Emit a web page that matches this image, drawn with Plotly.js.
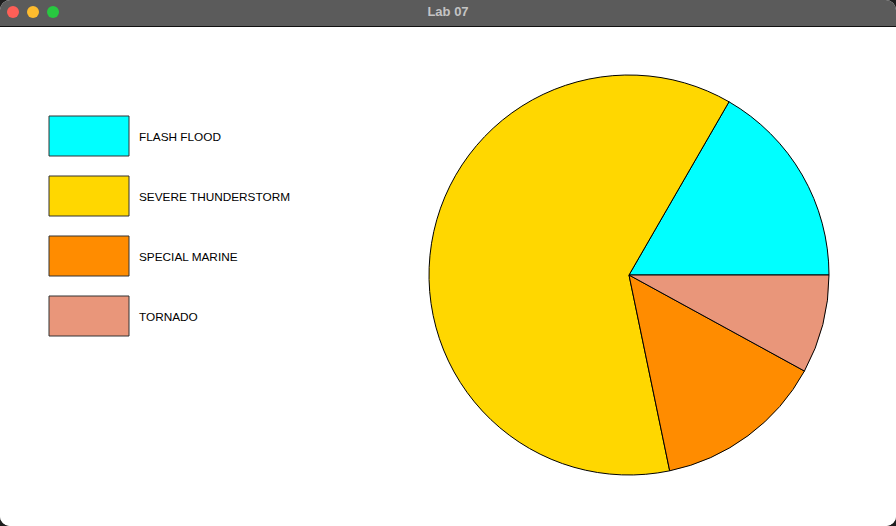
<!DOCTYPE html>
<html>
<head>
<meta charset="utf-8">
<script src="https://cdn.plot.ly/plotly-3.0.1.min.js"></script>
<style>
html, body { margin:0; padding:0; background:#1e1e1e; width:896px; height:526px; overflow:hidden; }
#win { position:absolute; left:0; top:0; width:896px; height:526px; border-radius:10px; overflow:hidden; background:#fff; }
#bar { position:absolute; left:0; top:0; width:896px; height:26px; background:#5b5b5b; border-bottom:1px solid #111; }
.dot { position:absolute; top:6px; width:12px; height:12px; border-radius:6px; }
#ttl { position:absolute; left:0; top:4px; width:896px; height:18px; line-height:18px; text-align:center; color:#c4c4c4; font:bold 13px "Liberation Sans", Arial, sans-serif; }
#plot { position:absolute; left:0; top:27px; width:896px; height:499px; }
</style>
</head>
<body>
<div id="win">
  <div id="bar">
    <div class="dot" style="left:7px;background:#fe5f57"></div>
    <div class="dot" style="left:27px;background:#febc2e"></div>
    <div class="dot" style="left:47px;background:#28c840"></div>
    <div id="ttl">Lab 07</div>
  </div>
  <div id="plot"></div>
</div>
<script>
const categories = ["FLASH FLOOD", "SEVERE THUNDERSTORM", "SPECIAL MARINE", "TORNADO"];
const counts = [23, 85, 19, 11];
const colors = ["#00FFFF", "#FFD700", "#FF8C00", "#E9967A"];

const W = 896, H = 499;
const px = x => x / W;
const py = y => 1 - y / H;

const shapes = [];
const annotations = [];
categories.forEach((c, i) => {
  const top = 89 + 60 * i;
  shapes.push({type:"rect", xref:"paper", yref:"paper",
    x0: px(49), x1: px(129), y0: py(top + 40), y1: py(top),
    fillcolor: colors[i], line:{color:"#333", width:1}});
  annotations.push({xref:"paper", yref:"paper", x: px(137), y: py(top + 21),
    xanchor:"left", yanchor:"middle", text: c, showarrow:false,
    font:{family:"Liberation Sans, Arial, sans-serif", size:11.8, color:"#000"}});
});

const total = counts.reduce((a, b) => a + b, 0);
const data = [{
  type:"pie", labels: categories, values: counts, sort:false,
  direction:"counterclockwise", rotation: 90 - 360 * counts[0] / total,
  marker:{colors: colors, line:{color:"#000", width:1}},
  textinfo:"none", hoverinfo:"none",
  domain:{x:[px(429), px(829)], y:[py(448), py(48)]}
}];

Plotly.newPlot("plot", data, {
  width: W, height: H, margin:{l:0,r:0,t:0,b:0},
  paper_bgcolor:"#fff", showlegend:false,
  shapes: shapes, annotations: annotations
}, {staticPlot:true});
</script>
</body>
</html>
